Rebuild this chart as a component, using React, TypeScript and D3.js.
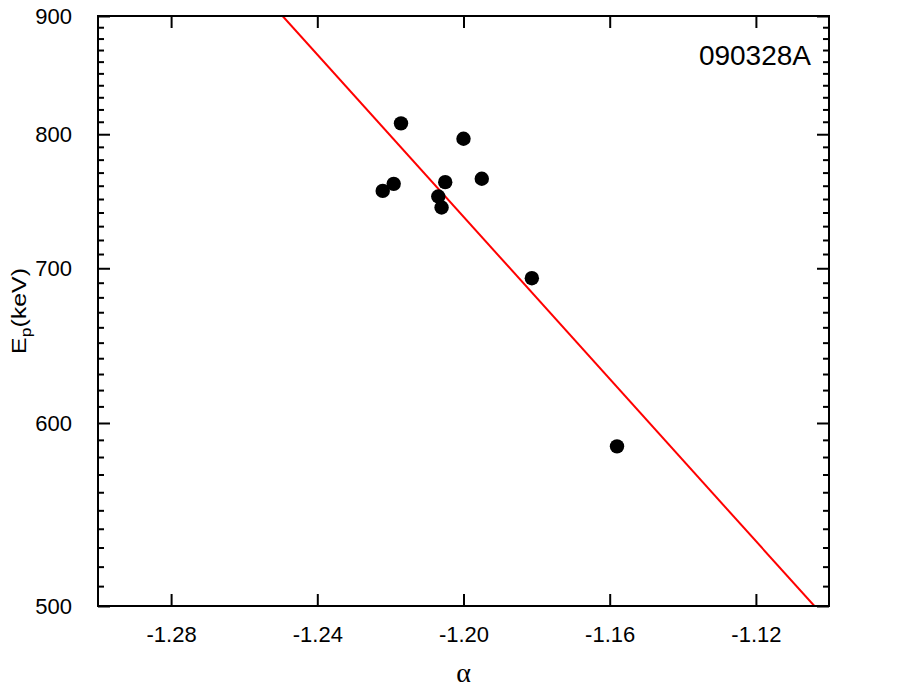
import * as d3 from "d3";
import { useEffect, useRef } from "react";

// alpha vs peak energy, GRB 090328A
const alpha = [-1.2171, -1.2000, -1.2221, -1.2191, -1.2050, -1.1950, -1.2069, -1.2060, -1.1813, -1.1580];
const epeak = [808.7, 796.4, 756.1, 761.4, 762.7, 765.3, 751.9, 743.7, 693.1, 586.2];

// fitted line end points (log Ep linear in alpha)
const fitAlpha = [-1.2495, -1.1040];
const fitEp = [900, 500];

const xTicks = [-1.28, -1.24, -1.2, -1.16, -1.12];
const yTicks = [500, 600, 700, 800, 900];
const yMinor = d3.range(510, 900, 10).filter((v) => v % 100 !== 0);

function App() {
    const ref = useRef<SVGSVGElement>(null);

    useEffect(() => {
        const width = 917, height = 695;
        const margin = { top: 16, right: 88, bottom: 89, left: 98 };
        const innerW = width - margin.left - margin.right,
            innerH = height - margin.top - margin.bottom;

        const svg = d3.select(ref.current);
        svg.selectAll("*").remove();

        const x = d3.scaleLinear().domain([-1.3, -1.1]).range([0, innerW]);
        const y = d3.scaleLog().domain([500, 900]).range([innerH, 0]);

        const g = svg
            .append("g")
            .attr("transform", "translate(" + margin.left + "," + margin.top + ")");

        const font = "'Liberation Sans', Arial, sans-serif";
        // plain hyphen instead of d3's unicode minus
        const fmtX = (d: any) => d3.format(".2f")(d).replace("\u2212", "-");

        // fit line, clipped to the frame
        g.append("clipPath").attr("id", "plotclip")
            .append("rect").attr("width", innerW).attr("height", innerH);

        g.append("line")
            .attr("clip-path", "url(#plotclip)")
            .attr("x1", x(fitAlpha[0])).attr("y1", y(fitEp[0]))
            .attr("x2", x(fitAlpha[1])).attr("y2", y(fitEp[1]))
            .attr("stroke", "#ff0000")
            .attr("stroke-width", 2);

        // points
        g.selectAll("circle.pt")
            .data(alpha)
            .enter()
            .append("circle")
            .attr("class", "pt")
            .attr("cx", (d) => x(d))
            .attr("cy", (d, i) => y(epeak[i]))
            .attr("r", 7.2)
            .attr("fill", "#000");

        // axes: ticks point inward
        const axisStyle = (sel: any) => {
            sel.select(".domain").remove();
            sel.selectAll("line").attr("stroke", "#000").attr("stroke-width", 2);
        };

        const bottom = g.append("g")
            .attr("transform", "translate(0," + innerH + ")")
            .call(d3.axisBottom(x).tickValues(xTicks).tickSize(-12).tickPadding(20).tickFormat(fmtX));
        axisStyle(bottom);
        bottom.attr("font-family", font).attr("font-size", 22);
        bottom.selectAll("text").attr("fill", "#000");

        const top = g.append("g")
            .call(d3.axisTop(x).tickValues(xTicks).tickSize(-12).tickFormat(() => ""));
        axisStyle(top);

        const left = g.append("g")
            .call(d3.axisLeft(y).tickValues(yTicks).tickSize(-12).tickPadding(26).tickFormat(d3.format("d")));
        axisStyle(left);
        left.attr("font-family", font).attr("font-size", 22);
        left.selectAll("text").attr("fill", "#000");

        const leftMinor = g.append("g")
            .call(d3.axisLeft(y).tickValues(yMinor).tickSize(-6).tickFormat(() => ""));
        axisStyle(leftMinor);

        const right = g.append("g")
            .attr("transform", "translate(" + innerW + ",0)")
            .call(d3.axisRight(y).tickValues(yTicks).tickSize(-12).tickFormat(() => ""));
        axisStyle(right);

        const rightMinor = g.append("g")
            .attr("transform", "translate(" + innerW + ",0)")
            .call(d3.axisRight(y).tickValues(yMinor).tickSize(-6).tickFormat(() => ""));
        axisStyle(rightMinor);

        // frame
        g.append("rect")
            .attr("width", innerW)
            .attr("height", innerH)
            .attr("fill", "none")
            .attr("stroke", "#000")
            .attr("stroke-width", 2);

        // GRB name
        g.append("text")
            .attr("x", innerW - 18)
            .attr("y", 49)
            .attr("text-anchor", "end")
            .attr("font-family", font)
            .attr("font-size", 28)
            .attr("fill", "#000")
            .text("090328A");

        // axis titles
        svg.append("text")
            .attr("x", margin.left + x(-1.2))
            .attr("y", 682)
            .attr("text-anchor", "middle")
            .attr("font-family", "'Liberation Serif', 'Times New Roman', serif")
            .attr("font-size", 28)
            .attr("fill", "#000")
            .text("α");

        const yl = svg.append("text")
            .attr("transform", "translate(26,311) rotate(-90)")
            .attr("text-anchor", "middle")
            .attr("font-family", font)
            .attr("font-size", 20)
            .attr("fill", "#000")
            .attr("textLength", 86)
            .attr("lengthAdjust", "spacingAndGlyphs");
        yl.append("tspan").text("E");
        yl.append("tspan").attr("font-size", 14).attr("dy", 5).text("p");
        yl.append("tspan").attr("dy", -5).text("(keV)");
    }, []);

    return (
        <svg
            ref={ref}
            width={917}
            height={695}
            style={{ position: "absolute", left: 0, top: 0, background: "#fff" }}
        ></svg>
    );
}

export default App;
